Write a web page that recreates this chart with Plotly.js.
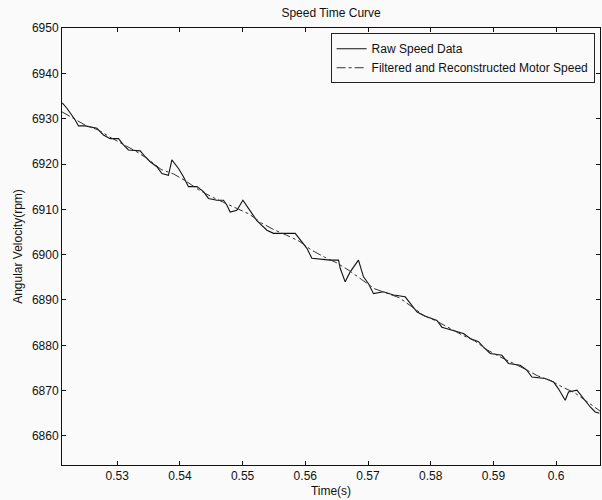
<!DOCTYPE html>
<html>
<head>
<meta charset="utf-8">
<script src="https://cdn.plot.ly/plotly-3.0.1.min.js"></script>
<style>html,body{margin:0;padding:0;background:#fafafa;}#chart{width:602px;height:500px;}</style>
</head>
<body>
<div id="chart"></div>
<script>
const rawTime = [0.52123,0.52198,0.52330,0.52383,0.52490,0.52676,0.52781,0.52888,0.53021,0.53100,0.53180,0.53367,0.53447,0.53526,0.53633,0.53713,0.53818,0.53872,0.53978,0.54057,0.54137,0.54271,0.54376,0.54456,0.54590,0.54695,0.54750,0.54802,0.54909,0.55005,0.55148,0.55228,0.55388,0.55493,0.55839,0.55919,0.56026,0.56105,0.56397,0.56530,0.56557,0.56636,0.56716,0.56848,0.56928,0.57008,0.57088,0.57247,0.57407,0.57593,0.57673,0.57780,0.57885,0.58099,0.58179,0.58418,0.58523,0.58630,0.58762,0.58842,0.58949,0.59135,0.59241,0.59427,0.59534,0.59614,0.59826,0.59959,0.60038,0.60145,0.60198,0.60332,0.60437,0.60545,0.60624,0.60690];
const rawSpeed = [6933.5,6932.3,6929.7,6928.4,6928.4,6927.9,6926.4,6925.6,6925.6,6924.2,6923.1,6922.9,6921.6,6920.5,6919.4,6917.9,6917.5,6920.9,6919.0,6917.2,6915.0,6915.0,6913.9,6912.4,6912.0,6912.0,6910.9,6909.4,6909.8,6912.0,6909.1,6907.5,6905.4,6904.7,6904.7,6903.2,6901.4,6899.2,6898.8,6898.8,6897.0,6894.0,6896.2,6898.8,6895.1,6893.6,6891.4,6891.8,6891.1,6890.7,6889.2,6887.4,6886.6,6885.5,6884.0,6883.0,6882.6,6881.5,6880.8,6879.6,6878.2,6877.8,6876.0,6875.6,6874.5,6873.0,6872.7,6871.9,6870.4,6867.9,6869.7,6870.1,6868.2,6866.4,6865.3,6865.0];

const filtTime = [0.5212,0.523,0.525,0.527,0.529,0.531,0.533,0.535,0.537,0.539,0.541,0.543,0.545,0.547,0.549,0.551,0.553,0.555,0.557,0.559,0.561,0.563,0.565,0.567,0.569,0.571,0.573,0.575,0.577,0.579,0.581,0.583,0.585,0.587,0.589,0.591,0.593,0.595,0.597,0.599,0.601,0.603,0.605,0.607];
const filtSpeed = [6931.5,6930.0,6928.5,6927.5,6925.8,6924.3,6922.8,6921.0,6918.8,6917.8,6916.2,6914.3,6912.8,6911.5,6910.3,6909.0,6907.0,6905.5,6904.3,6903.0,6901.0,6899.5,6898.2,6896.5,6894.5,6892.5,6891.5,6890.5,6888.5,6886.5,6885.3,6883.8,6882.3,6881.0,6879.0,6877.5,6876.2,6874.8,6873.3,6872.3,6870.8,6869.5,6867.5,6865.5];

const xTickVals = [0.53,0.54,0.55,0.56,0.57,0.58,0.59,0.60];
const xTickText = ['0.53','0.54','0.55','0.56','0.57','0.58','0.59','0.6'];
const yTickVals = [6860,6870,6880,6890,6900,6910,6920,6930,6940,6950];

const font = {family:'Liberation Sans, Arial, sans-serif', size:12, color:'#111'};

const traces = [
  {x:rawTime, y:rawSpeed, type:'scatter', mode:'lines', name:'Raw Speed Data',
   line:{color:'#111', width:1.1}},
  {x:filtTime, y:filtSpeed, type:'scatter', mode:'lines', name:'Filtered and Reconstructed Motor Speed',
   line:{color:'#333', width:1, dash:'dashdot'}}
];

const axisCommon = {showgrid:false, zeroline:false, showline:true, linecolor:'#111', linewidth:1,
  mirror:'ticks', ticks:'inside', ticklen:4, tickcolor:'#111', tickfont:font, automargin:false};

const layout = {
  width:602, height:500,
  margin:{l:62, r:2, t:28, b:35},
  paper_bgcolor:'#fafafa', plot_bgcolor:'#fafafa',
  font:font,
  title:{text:'Speed Time Curve', font:font, x:0.55, xref:'container', xanchor:'center', y:1-13/500, yref:'container', yanchor:'middle'},
  xaxis:Object.assign({}, axisCommon, {range:[0.5212,0.607], tickvals:xTickVals, ticktext:xTickText,
    title:{text:'Time(s)', font:font, standoff:4}}),
  yaxis:Object.assign({}, axisCommon, {range:[6853.6,6950], tickvals:yTickVals,
    title:{text:'Angular Velocity(rpm)', font:font, standoff:6}}),
  showlegend:true,
  legend:{x:0.99, xanchor:'right', y:0.988, yanchor:'top', bgcolor:'#fafafa', bordercolor:'#222', borderwidth:1,
    font:font, tracegroupgap:0}
};

Plotly.newPlot('chart', traces, layout, {displayModeBar:false, staticPlot:true});
</script>
</body>
</html>
